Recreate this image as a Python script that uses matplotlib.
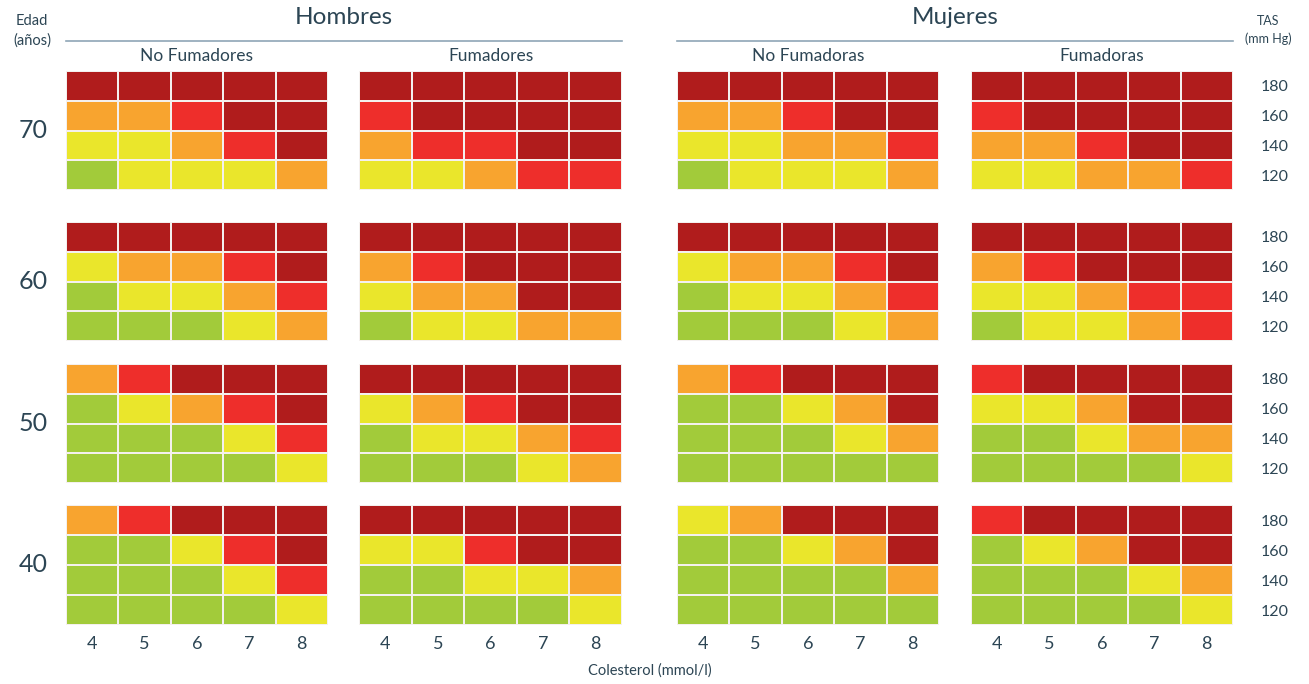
import matplotlib
matplotlib.use('Agg')
import matplotlib.pyplot as plt
import numpy as np
from matplotlib.colors import ListedColormap, BoundaryNorm

# ---------------- data ----------------
ages = ['70', '60', '50', '40']
tas_labels = ['180', '160', '140', '120']
colesterol_labels = ['4', '5', '6', '7', '8']
sex_titles = ['Hombres', 'Mujeres']
panel_titles = ['No Fumadores', 'Fumadores', 'No Fumadoras', 'Fumadoras']
# risk level: 0 green, 1 yellow, 2 orange, 3 red, 4 dark red
risk_colors = ['#a2cb3a', '#eae62b', '#f8a42f', '#ee2e2b', '#b01c1c']

# each: list over ages (70,60,50,40); rows TAS 180..120; cols cholesterol 4..8
hombres_no_fumadores = [
    [[4, 4, 4, 4, 4], [2, 2, 3, 4, 4], [1, 1, 2, 3, 4], [0, 1, 1, 1, 2]],
    [[4, 4, 4, 4, 4], [1, 2, 2, 3, 4], [0, 1, 1, 2, 3], [0, 0, 0, 1, 2]],
    [[2, 3, 4, 4, 4], [0, 1, 2, 3, 4], [0, 0, 0, 1, 3], [0, 0, 0, 0, 1]],
    [[2, 3, 4, 4, 4], [0, 0, 1, 3, 4], [0, 0, 0, 1, 3], [0, 0, 0, 0, 1]],
]
hombres_fumadores = [
    [[4, 4, 4, 4, 4], [3, 4, 4, 4, 4], [2, 3, 3, 4, 4], [1, 1, 2, 3, 3]],
    [[4, 4, 4, 4, 4], [2, 3, 4, 4, 4], [1, 2, 2, 4, 4], [0, 1, 1, 2, 2]],
    [[4, 4, 4, 4, 4], [1, 2, 3, 4, 4], [0, 1, 1, 2, 3], [0, 0, 0, 1, 2]],
    [[4, 4, 4, 4, 4], [1, 1, 3, 4, 4], [0, 0, 1, 1, 2], [0, 0, 0, 0, 1]],
]
mujeres_no_fumadoras = [
    [[4, 4, 4, 4, 4], [2, 2, 3, 4, 4], [1, 1, 2, 2, 3], [0, 1, 1, 1, 2]],
    [[4, 4, 4, 4, 4], [1, 2, 2, 3, 4], [0, 1, 1, 2, 3], [0, 0, 0, 1, 2]],
    [[2, 3, 4, 4, 4], [0, 0, 1, 2, 4], [0, 0, 0, 1, 2], [0, 0, 0, 0, 0]],
    [[1, 2, 4, 4, 4], [0, 0, 1, 2, 4], [0, 0, 0, 0, 2], [0, 0, 0, 0, 0]],
]
mujeres_fumadoras = [
    [[4, 4, 4, 4, 4], [3, 4, 4, 4, 4], [2, 2, 3, 4, 4], [1, 1, 2, 2, 3]],
    [[4, 4, 4, 4, 4], [2, 3, 4, 4, 4], [1, 1, 2, 3, 3], [0, 1, 1, 2, 3]],
    [[3, 4, 4, 4, 4], [1, 1, 2, 4, 4], [0, 0, 1, 2, 2], [0, 0, 0, 0, 1]],
    [[3, 4, 4, 4, 4], [0, 1, 2, 4, 4], [0, 0, 0, 1, 2], [0, 0, 0, 0, 1]],
]
panels = [hombres_no_fumadores, hombres_fumadores, mujeres_no_fumadoras, mujeres_fumadoras]

# ---------------- layout ----------------
W, H = 1309, 684
TXT = '#2c4554'
LINE = '#8fa6b6'
plt.rcParams['font.family'] = ['Lato', 'DejaVu Sans']

fig = plt.figure(figsize=(W / 100, H / 100), dpi=100)
fig.patch.set_facecolor('white')

panel_x = [(66, 328), (359, 622), (677, 939), (971, 1233)]
group_y = [(71, 190), (222, 341), (364, 483), (505, 625)]

cmap = ListedColormap(risk_colors)
norm = BoundaryNorm(np.arange(-0.5, 5.5, 1), cmap.N)

def fx(px):
    return px / W

def fy(py):
    return 1 - py / H

for gi, (y0, y1) in enumerate(group_y):
    for pi, (x0, x1) in enumerate(panel_x):
        ax = fig.add_axes([fx(x0), fy(y1), (x1 - x0) / W, (y1 - y0) / H])
        arr = np.array(panels[pi][gi])
        ax.pcolormesh(arr, cmap=cmap, norm=norm, edgecolors='#f4f0ee', linewidth=1.4)
        ax.set_xlim(0, 5)
        ax.set_ylim(4, 0)
        for s in ax.spines.values():
            s.set_visible(False)
        ax.tick_params(length=0)
        if gi == len(group_y) - 1:
            ax.set_xticks(np.arange(5) + 0.5, colesterol_labels)
            ax.tick_params(axis='x', labelsize=13, labelcolor=TXT, pad=8)
        else:
            ax.set_xticks([])
        if pi == len(panel_x) - 1:
            ax.yaxis.tick_right()
            ax.set_yticks(np.arange(4) + 0.5, tas_labels)
            ax.tick_params(axis='y', labelsize=11.5, labelcolor=TXT, pad=20)
        else:
            ax.set_yticks([])
        if pi == 0:
            fig.text(fx(33), fy((y0 + y1) / 2), ages[gi], fontsize=18, color=TXT,
                     ha='center', va='center')

# headers
for si, title in enumerate(sex_titles):
    xa = panel_x[2 * si][0]
    xb = panel_x[2 * si + 1][1]
    fig.text(fx((xa + xb) / 2), fy(17), title, fontsize=17.5, color=TXT,
             ha='center', va='center')
    fig.add_artist(plt.Line2D([fx(xa), fx(xb)], [fy(40.5), fy(40.5)],
                              color=LINE, linewidth=1.2))

for pi, (x0, x1) in enumerate(panel_x):
    fig.text(fx((x0 + x1) / 2), fy(56), panel_titles[pi], fontsize=12.5, color=TXT,
             ha='center', va='center')

fig.text(fx(32), fy(21), 'Edad', fontsize=10.5, color=TXT, ha='center', va='center')
fig.text(fx(32), fy(41), '(años)', fontsize=10.5, color=TXT, ha='center', va='center')
fig.text(fx(1268), fy(21), 'TAS', fontsize=9, color=TXT, ha='center', va='center')
fig.text(fx(1268), fy(39), '(mm Hg)', fontsize=9, color=TXT, ha='center', va='center')
fig.text(fx(650), fy(671), 'Colesterol (mmol/l)', fontsize=10.5, color=TXT,
         ha='center', va='center')

fig.savefig('out.png', dpi=100, facecolor='white')
